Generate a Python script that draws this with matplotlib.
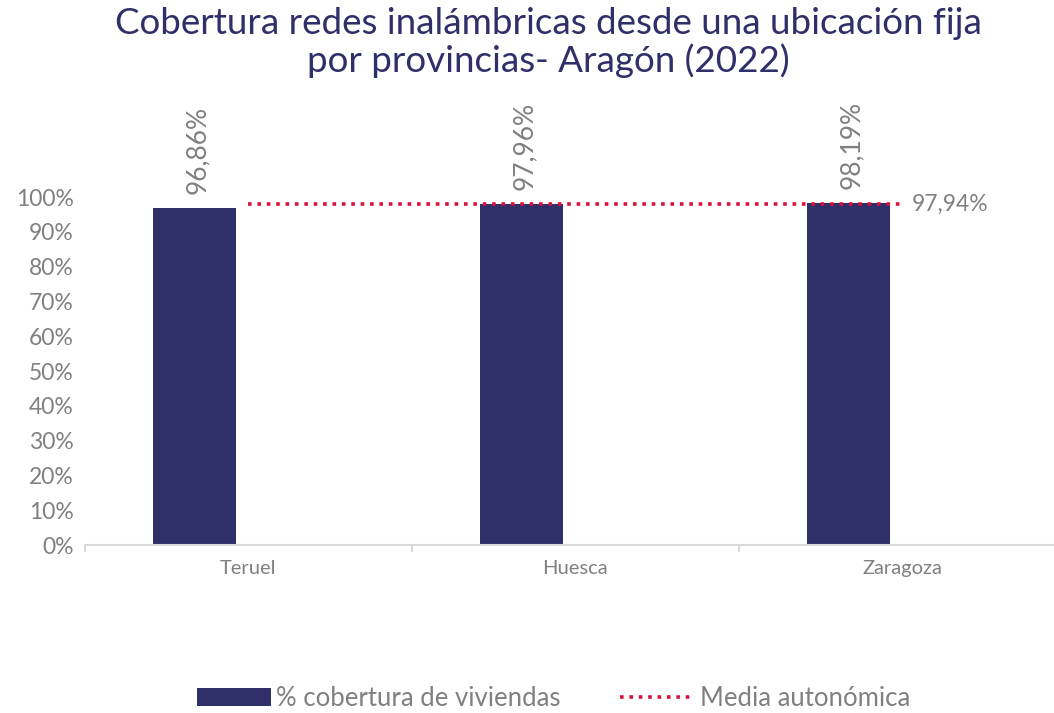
import numpy as np
import matplotlib.pyplot as plt
from matplotlib.patches import Patch
from matplotlib.lines import Line2D

provincias = ['Teruel', 'Huesca', 'Zaragoza']
cobertura = [96.86, 97.96, 98.19]
media = 97.94
yticks = [0, 10, 20, 30, 40, 50, 60, 70, 80, 90, 100]

navy = '#2f2f69'
red = '#d9123d'
gray = '#808080'

plt.rcParams['font.family'] = ['Lato', 'DejaVu Sans']

fig = plt.figure(figsize=(10.54, 7.13), dpi=100)
ax = fig.add_axes([0.0806, 0.2356, 0.918, 0.488])

x = np.arange(len(provincias))
off = -0.165
ax.bar(x + off, cobertura, width=0.254, color=navy, zorder=2)
for xi, v in zip(x, cobertura):
    ax.text(xi + off + 0.01, v + 4, ('%.2f%%' % v).replace('.', ','), rotation=90,
            ha='center', va='bottom', fontsize=19, color=gray, clip_on=False)

ax.hlines(media, x[0], x[-1], colors=red, linestyles=(0, (1, 1.6)), linewidth=2.6,
          zorder=3, clip_on=False)
ax.text(x[-1] + 0.03, media, ('%.2f%%' % media).replace('.', ','), ha='left', va='center',
        fontsize=16.5, color=gray, clip_on=False)

ax.set_xlim(-0.5, 2.46)
ax.set_ylim(0, 100)
ax.set_yticks(yticks)
ax.set_yticklabels(['%d%%' % t for t in yticks], fontsize=16.5, color=gray)
ax.set_xticks(x)
ax.set_xticklabels(provincias, fontsize=14.5, color=gray)
ax.set_xticks([-0.5, 0.5, 1.5], minor=True)
ax.tick_params(axis='x', which='major', length=0, pad=11)
ax.tick_params(axis='x', which='minor', length=5, color='#d9d9d9', width=1.5)
ax.tick_params(axis='y', length=0, pad=8)
for s in ['top', 'right', 'left']:
    ax.spines[s].set_visible(False)
ax.spines['bottom'].set_color('#d9d9d9')
ax.spines['bottom'].set_linewidth(1.5)

fig.suptitle('Cobertura redes inalámbricas desde una ubicación fija\npor provincias- Aragón (2022)',
             x=0.52, y=0.99, fontsize=26.5, color=navy, linespacing=1.12)

handles = [Patch(facecolor=navy), Line2D([0], [0], color=red, linestyle=(0, (1, 1.6)), linewidth=2.6)]
fig.legend(handles, ['% cobertura de viviendas', 'Media autonómica'], loc='lower center',
           bbox_to_anchor=(0.525, -0.03), ncol=2, frameon=False, fontsize=18.5, labelcolor=gray,
           handlelength=2.9, handletextpad=0.2, columnspacing=2.3)

fig.savefig('out.png', dpi=100)
